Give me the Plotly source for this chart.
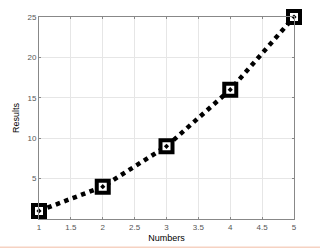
import plotly.graph_objects as go

numbers = [1, 2, 3, 4, 5]
results = [1, 4, 9, 16, 25]
x_ticks = [1, 1.5, 2, 2.5, 3, 3.5, 4, 4.5, 5]
y_ticks = [5, 10, 15, 20, 25]

fig = go.Figure()
fig.add_trace(go.Scatter(x=numbers, y=results, mode="lines",
                         line=dict(color="black", width=4.5, dash="dot"),
                         hoverinfo="skip"))
fig.add_trace(go.Scatter(x=numbers, y=results, mode="markers",
                         marker=dict(symbol="square", size=12, color="white",
                                     line=dict(color="black", width=4))))
fig.add_trace(go.Scatter(x=numbers, y=results, mode="markers",
                         marker=dict(symbol="diamond", size=4, color="black")))

axis_common = dict(showgrid=True, gridcolor="#e6e6e6", gridwidth=1,
                   showline=True, linecolor="#888888", linewidth=1, mirror="ticks",
                   ticks="inside", ticklen=2, tickcolor="#888888",
                   tickfont=dict(family="Liberation Sans, Arial", size=8, color="#555555"),
                   zeroline=False, automargin=False)

fig.update_layout(
    width=320, height=248,
    margin=dict(l=39, r=26, t=17, b=29),
    paper_bgcolor="white", plot_bgcolor="white",
    showlegend=False,
    xaxis=dict(range=[1, 5], tickvals=x_ticks, ticktext=[f"{v:g}" for v in x_ticks],
               title=dict(text="Numbers", font=dict(family="Liberation Sans, Arial", size=9, color="black"),
                          standoff=4),
               **axis_common),
    yaxis=dict(range=[0, 25], tickvals=y_ticks, ticktext=[str(v) for v in y_ticks],
               title=dict(text="Results", font=dict(family="Liberation Sans, Arial", size=9, color="black"),
                          standoff=6),
               **axis_common),
    shapes=[dict(type="line", xref="paper", yref="paper", x0=-0.2, x1=1.2, y0=-0.14, y1=-0.14,
                 line=dict(color="#f6d2c2", width=1.5))],
)
fig.update_traces(cliponaxis=False, selector=dict(mode="markers"))

fig.write_html("out.html")
